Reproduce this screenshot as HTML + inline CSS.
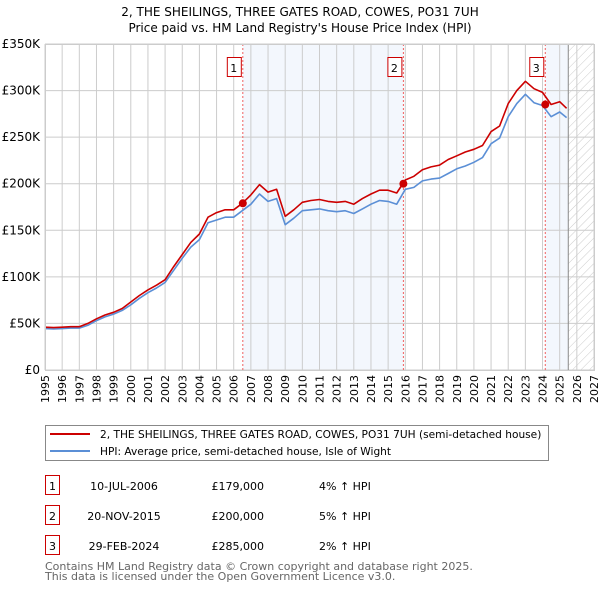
<!DOCTYPE html>
<html><head><meta charset="utf-8">
<style>
body{margin:0;background:#fff;font-family:"DejaVu Sans","Liberation Sans",sans-serif;}
svg text{font-family:"DejaVu Sans","Liberation Sans",sans-serif;}
</style></head>
<body>
<svg id="chart" width="600" height="590" xmlns="http://www.w3.org/2000/svg">
<defs>
<pattern id="hatch" width="6" height="6" patternUnits="userSpaceOnUse" patternTransform="rotate(45)">
<line x1="0" y1="0" x2="0" y2="6" stroke="#ccc" stroke-width="1"/>
</pattern>
</defs>
<text x="300" y="16" text-anchor="middle" font-size="12">2, THE SHEILINGS, THREE GATES ROAD, COWES, PO31 7UH</text>
<text x="300" y="32" text-anchor="middle" font-size="12">Price paid vs. HM Land Registry's House Price Index (HPI)</text>
<g id="plot"></g>
<g>
<rect x="45.5" y="425.5" width="503" height="35" fill="#fff" stroke="#888"/>
<line x1="50" y1="434" x2="90" y2="434" stroke="#cc0000" stroke-width="2"/>
<text x="100" y="438" font-size="10.6">2, THE SHEILINGS, THREE GATES ROAD, COWES, PO31 7UH (semi-detached house)</text>
<line x1="50" y1="451" x2="90" y2="451" stroke="#5b8fd6" stroke-width="2"/>
<text x="100" y="455" font-size="10.6">HPI: Average price, semi-detached house, Isle of Wight</text>
</g>
<g id="table" font-size="11"></g>
<text x="45" y="570" font-size="11" fill="#666">Contains HM Land Registry data © Crown copyright and database right 2025.</text>
<text x="45" y="580" font-size="11" fill="#666">This data is licensed under the Open Government Licence v3.0.</text>
</svg>
<script>
const yTicks=[0,50000,100000,150000,200000,250000,300000,350000];
const yTickLabels=["£0","£50K","£100K","£150K","£200K","£250K","£300K","£350K"];
const xYears=[1995,1996,1997,1998,1999,2000,2001,2002,2003,2004,2005,2006,2007,2008,2009,2010,2011,2012,2013,2014,2015,2016,2017,2018,2019,2020,2021,2022,2023,2024,2025,2026,2027];
const seriesTimes=[1995,1995.5,1996,1996.5,1997,1997.5,1998,1998.5,1999,1999.5,2000,2000.5,2001,2001.5,2002,2002.5,2003,2003.5,2004,2004.5,2005,2005.5,2006,2006.5,2007,2007.5,2008,2008.5,2009,2009.5,2010,2010.5,2011,2011.5,2012,2012.5,2013,2013.5,2014,2014.5,2015,2015.5,2016,2016.5,2017,2017.5,2018,2018.5,2019,2019.5,2020,2020.5,2021,2021.5,2022,2022.5,2023,2023.5,2024,2024.5,2025,2025.4];
const hpiValues=[44.5,44,44.5,45,45,48,53,57,60,64,70,77,83,88,94,107,120,132,140,158,161,164,164,171,178,189,181,184,156,163,171,172,173,171,170,171,168,173,178,182,181,178,194,196,203,205,206,211,216,219,223,228,243,249,272,286,296,287,284,272,277,271];
const propValues=[46,45.5,46,46.5,46.5,50,55,59,62,66,73,80,86,91,97,111,124,137,146,164,169,172,172,179,188,199,191,194,165,172,180,182,183,181,180,181,178,184,189,193,193,190,204,208,215,218,220,226,230,234,237,241,256,262,286,300,310,302,298,285,288,281];
const saleTimes=[2006.53,2015.89,2024.16];
const salePrices=[179000,200000,285000];
const saleLabels=["1","2","3"];
const saleDates=["10-JUL-2006","20-NOV-2015","29-FEB-2024"];
const salePriceText=["£179,000","£200,000","£285,000"];
const saleHpiText=["4% ↑ HPI","5% ↑ HPI","2% ↑ HPI"];
const dataEnd=2025.5;

const X0=45,X1=594,Y0=370,Y1=44;
const xs=t=>X0+(t-1995)/(2027-1995)*(X1-X0);
const ys=v=>Y0-v/350000*(Y0-Y1);
const NS="http://www.w3.org/2000/svg";
const plot=document.getElementById('plot');
function mk(tag,attrs,parent){const e=document.createElementNS(NS,tag);for(const k in attrs)e.setAttribute(k,attrs[k]);(parent||plot).appendChild(e);return e;}

let r=mk('rect',{x:xs(saleTimes[0]),y:Y1,width:xs(saleTimes[1])-xs(saleTimes[0]),height:Y0-Y1,fill:'#eef3fc',opacity:0.7});


r=mk('rect',{x:xs(saleTimes[2]),y:Y1,width:xs(dataEnd)-xs(saleTimes[2]),height:Y0-Y1,fill:'#eef3fc',opacity:0.7});


r=mk('rect',{x:xs(dataEnd),y:Y1,width:X1-xs(dataEnd),height:Y0-Y1,fill:'url(#hatch)'});



xYears.forEach(y=>{const l=mk('line',{x1:xs(y),x2:xs(y),y1:Y1,y2:Y0,stroke:'#ccc','stroke-width':1});


const t=mk('text',{x:0,y:0,'font-size':11,'text-anchor':'end',transform:`translate(${xs(y)+4},375) rotate(-90)`});t.textContent=y;

});
yTicks.forEach((v,i)=>{const l=mk('line',{x1:X0,x2:X1,y1:ys(v),y2:ys(v),stroke:'#ccc','stroke-width':1});


const t=mk('text',{x:40,y:ys(v)+4,'font-size':12,'text-anchor':'end'});t.textContent=yTickLabels[i];

});
let ln=mk('line',{x1:xs(dataEnd),x2:xs(dataEnd),y1:Y1,y2:Y0,stroke:'#888','stroke-width':1});



saleTimes.forEach((t,i)=>{const l=mk('line',{x1:xs(t),x2:xs(t),y1:Y1,y2:Y0,stroke:'#f06060','stroke-width':1,'stroke-dasharray':'2,2'});


const b=mk('rect',{x:xs(t)-16+0.5,y:57.5,width:14,height:19,fill:'#fff',stroke:'#cc0000'});


const tx=mk('text',{x:xs(t)-9,y:72,'font-size':11,'text-anchor':'middle'});tx.textContent=saleLabels[i];

});

function path(vals,color,name){const d=vals.map((v,i)=>(i?'L':'M')+xs(seriesTimes[i]).toFixed(1)+','+ys(v*1000).toFixed(1)).join('');
const p=mk('path',{d:d,fill:'none',stroke:color,'stroke-width':1.6,'stroke-linejoin':'round'});

}
path(hpiValues,'#5b8fd6','hpi-line');
path(propValues,'#cc0000','property-line');
saleTimes.forEach((t,i)=>{const c=mk('circle',{cx:xs(t),cy:ys(salePrices[i]),r:4,fill:'#cc0000'});

});
let ax=mk('rect',{x:X0+0.5,y:Y1+0.5,width:X1-X0,height:Y0-Y1,fill:'none',stroke:'#ccc'});



const tbl=document.getElementById('table');
const rowY=[486,516,546];
saleTimes.forEach((t,i)=>{const y=rowY[i];
const b=mk('rect',{x:45.5,y:y-10.5,width:14,height:19,fill:'#fff',stroke:'#cc0000'},tbl);


const n=mk('text',{x:52.5,y:y+4,'text-anchor':'middle'},tbl);n.textContent=saleLabels[i];


const d=mk('text',{x:124,y:y+4,'text-anchor':'middle'},tbl);d.textContent=saleDates[i];


const p=mk('text',{x:264,y:y+4,'text-anchor':'end'},tbl);p.textContent=salePriceText[i];


const h=mk('text',{x:319,y:y+4},tbl);h.textContent=saleHpiText[i];

});
</script>
</body></html>
